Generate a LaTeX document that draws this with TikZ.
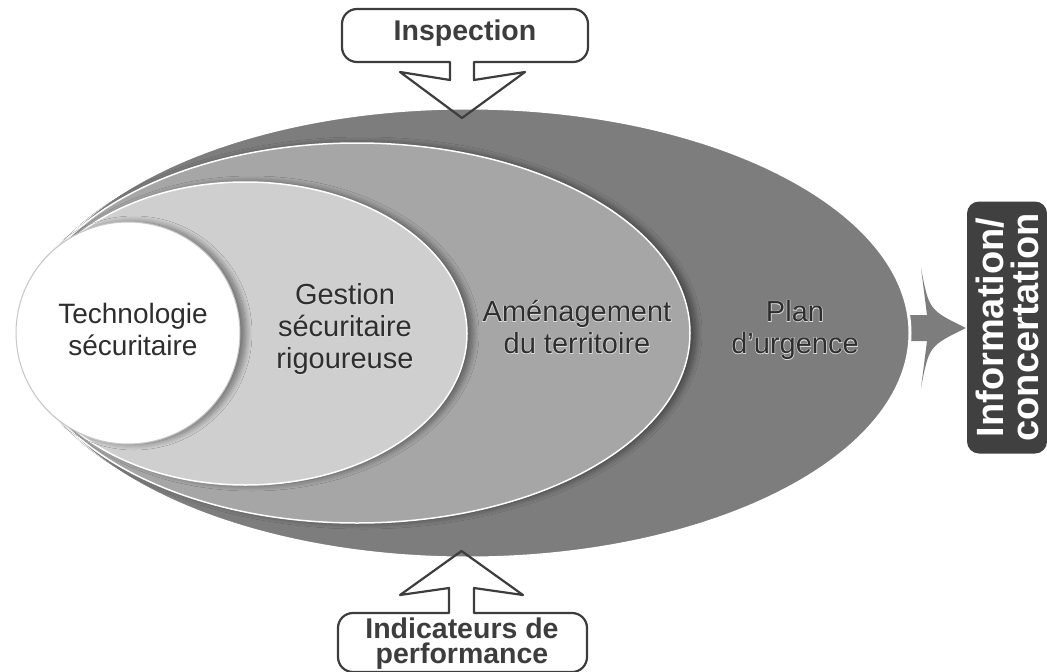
\documentclass[tikz,border=0pt]{standalone}
\usepackage{fontspec}
\setmainfont{Liberation Sans}
\newfontfamily\halofont[FakeBold=4]{Liberation Sans}
\usetikzlibrary{shapes.geometric,shadows.blur}

\definecolor{planc}{gray}{0.49}
\definecolor{amenc}{gray}{0.65}
\definecolor{gestc}{gray}{0.81}
\definecolor{txtc}{gray}{0.18}
\definecolor{haloc}{gray}{0.86}
\definecolor{linec}{gray}{0.24}
\definecolor{labelc}{gray}{0.25}

\newsavebox\glowA
\newsavebox\glowB
\newcommand\glowtext[1]{%
  \sbox\glowA{\halofont\color{haloc}\begin{tabular}{@{}c@{}}#1\end{tabular}}%
  \sbox\glowB{\color{txtc}\begin{tabular}{@{}c@{}}#1\end{tabular}}%
  \rlap{\usebox\glowA}\usebox\glowB}

\tikzset{
  ring/.style={ellipse, inner sep=0pt, outer sep=0pt, draw=white, line width=1.5pt},
  ringshadow/.style={blur shadow={shadow xshift=6pt, shadow yshift=0pt, shadow blur radius=6pt, shadow blur steps=10, shadow opacity=45}},
  maintext/.style={font=\fontsize{29}{32}\selectfont},
  callout/.style={draw=linec, line width=2.2pt, line join=round},
  callouttext/.style={font=\bfseries\fontsize{28.5}{25}\selectfont, text=linec, align=center},
}

\begin{document}
\begin{tikzpicture}[x=1pt,y=-1pt]
\useasboundingbox (0,0) rectangle (1047,672);

% right arrow (behind the outer ellipse)
\fill[planc] (890,315) -- (927,315) -- (921,268) .. controls (929,310) .. (966,328)
  .. controls (929,346) .. (921,388) -- (927,341) -- (890,341) -- cycle;

% nested ellipses
\node[ring, fill=planc, line width=3pt, minimum width=885pt, minimum height=450pt] (plan) at (467.5,333) {};
\node[ring, ringshadow, fill=amenc, minimum width=666pt, minimum height=380pt] (amen) at (357,333) {};
\node[ring, ringshadow, fill=gestc, minimum width=443pt, minimum height=303pt] (gest) at (245.5,333.5) {};
\node[ellipse, inner sep=0pt, ringshadow, fill=white, draw=gray!45, line width=1pt,
      minimum width=224pt, minimum height=222pt] (tech) at (128,333) {};

% texts
\node[font=\fontsize{28}{32}\selectfont, text=txtc, align=center] (techtxt) at (133,329) {Technologie\\sécuritaire};
\node[maintext] (gesttxt) at (345,330) {\glowtext{Gestion\\sécuritaire\\rigoureuse}};
\node[maintext] (amentxt) at (577,331) {\glowtext{Aménagement\\du territoire}};
\node[maintext] (plantxt) at (795,331) {\glowtext{Plan\\d’urgence}};

% right label
\node[rotate=90, fill=labelc, rounded corners=12pt, minimum width=252pt, minimum height=80pt,
      text=white, font=\bfseries\fontsize{38}{35}\selectfont, align=center] (info) at (1007,327.5) {Information/\\concertation};

% top callout
\draw[callout] (450,62) -- (450,80) -- (400,72) -- (462,118) -- (525,72) -- (474,80) -- (474,62)
  -- (573,62) .. controls (581.3,62) and (588,55.3) .. (588,47) -- (588,24)
  .. controls (588,15.7) and (581.3,9) .. (573,9) -- (357,9)
  .. controls (348.7,9) and (342,15.7) .. (342,24) -- (342,47)
  .. controls (342,55.3) and (348.7,62) .. (357,62) -- cycle;
\node[callouttext] (insp) at (465,33) {Inspection};

% bottom callout
\draw[callout] (449,613) -- (449,588) -- (400,595) -- (461.5,551) -- (523,595) -- (474,588) -- (474,613)
  -- (572,613) .. controls (580.3,613) and (587,619.7) .. (587,628) -- (587,657)
  .. controls (587,665.3) and (580.3,672) .. (572,672) -- (353,672)
  .. controls (344.7,672) and (338,665.3) .. (338,657) -- (338,628)
  .. controls (338,619.7) and (344.7,613) .. (353,613) -- cycle;
\node[callouttext] (perf) at (462,643.5) {Indicateurs de\\performance};
\end{tikzpicture}
\end{document}
